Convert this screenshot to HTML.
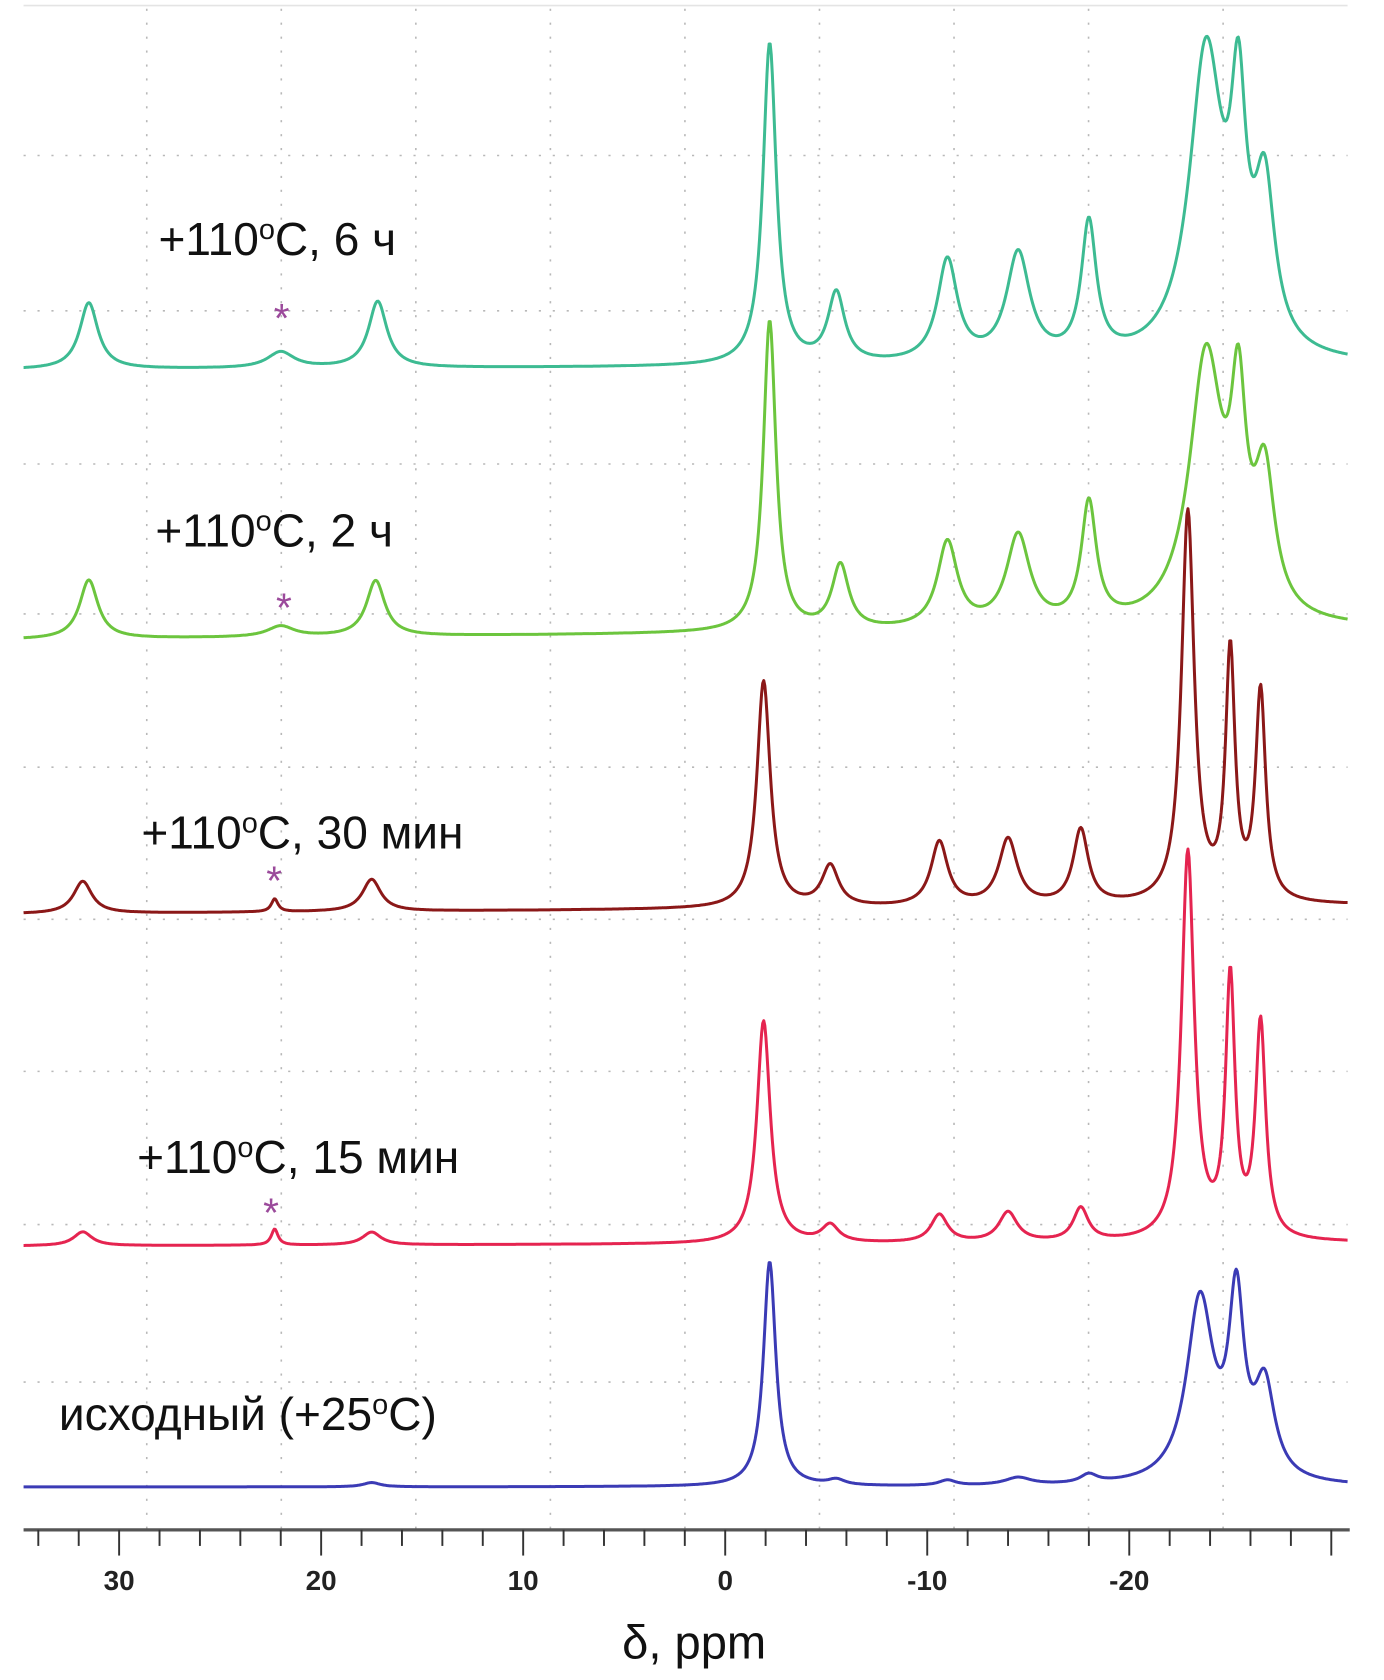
<!DOCTYPE html>
<html><head><meta charset="utf-8"><style>
html,body{margin:0;padding:0;background:#fff;width:1384px;height:1680px;overflow:hidden}
svg{display:block}
text{font-family:"Liberation Sans",sans-serif}
</style></head><body>
<svg id="chart" width="1384" height="1680" viewBox="0 0 1292 1568" xmlns="http://www.w3.org/2000/svg">
<g id="grid"></g>
<g id="spectra"></g>
<g id="axis"></g>
<g font-size="43" fill="#111">
<text x="148" y="238">+110<tspan font-size="27" dy="-15">o</tspan><tspan dy="15">C, 6 ч</tspan></text>
<text x="145" y="510">+110<tspan font-size="27" dy="-15">o</tspan><tspan dy="15">C, 2 ч</tspan></text>
<text x="132" y="792">+110<tspan font-size="27" dy="-15">o</tspan><tspan dy="15">C, 30 мин</tspan></text>
<text x="128" y="1095">+110<tspan font-size="27" dy="-15">o</tspan><tspan dy="15">C, 15 мин</tspan></text>
<text x="55" y="1335">исходный (+25<tspan font-size="27" dy="-15">o</tspan><tspan dy="15">C)</tspan></text>
</g>
<g font-size="38" fill="#9b4a9b" text-anchor="middle">
<text x="263" y="310">*</text>
<text x="265" y="580">*</text>
<text x="256" y="835">*</text>
<text x="253" y="1145">*</text>
</g>
<text x="648" y="1548" font-size="44" text-anchor="middle" fill="#111">δ, ppm</text>
</svg>
<script>
// axis data
const tickValues = [30, 20, 10, 0, -10, -20];
const tickLabels = ["30", "20", "10", "0", "-10", "-20"];
// series data: [ppm, height, half-width]
const peaks6h = [[31.5,62,0.55],[22,15,0.8],[17.2,62,0.55],[-2.2,300,0.4],[-5.5,65,0.5],[-11,95,0.6],[-14.5,100,0.7],[-18,125,0.45],[-23.8,285,1.0],[-25.4,200,0.45],[-26.7,145,0.6]];
const peaks2h = [[31.5,55,0.55],[22,10,0.8],[17.3,52,0.55],[-2.2,290,0.38],[-5.7,60,0.5],[-11,80,0.6],[-14.5,85,0.7],[-18,112,0.45],[-23.8,248,1.0],[-25.4,174,0.45],[-26.7,126,0.6]];
const peaks30 = [[31.8,30,0.55],[22.3,12,0.2],[17.5,30,0.55],[-1.9,212,0.4],[-5.2,38,0.5],[-10.6,60,0.5],[-14,62,0.55],[-17.6,70,0.45],[-22.9,365,0.38],[-25,230,0.28],[-26.5,195,0.3]];
const peaks15 = [[31.8,13,0.55],[22.3,15,0.2],[17.5,12,0.55],[-1.9,208,0.4],[-5.2,16,0.5],[-10.6,26,0.5],[-14,28,0.55],[-17.6,31,0.45],[-22.9,362,0.38],[-25,240,0.28],[-26.5,200,0.3]];
const peaksInit = [[17.5,4,0.5],[-2.2,210,0.37],[-5.5,5,0.5],[-11,5,0.5],[-14.5,7,0.8],[-18,8,0.5],[-23.5,170,0.8],[-25.3,162,0.45],[-26.7,85,0.6]];
const baseLeft = [345, 597, 853, 1163, 1388];
const baseRight = [341, 587, 845, 1160, 1388];
const colors = ["#3dbb92", "#6cc53e", "#8b1818", "#e52450", "#3b3bb5"];
const seriesNames = ["spectrum-6h", "spectrum-2h", "spectrum-30min", "spectrum-15min", "spectrum-initial"];
const allPeaks = [peaks6h, peaks2h, peaks30, peaks15, peaksInit];

const NS = "http://www.w3.org/2000/svg";
const X0 = 22, X1 = 1258, AXY = 1428;
function xScale(p){ return 677 - 18.86 * p; }
function ppmAt(x){ return (677 - x) / 18.86; }

const gridG = document.getElementById('grid');
for (let gx = 137; gx < 1262; gx += 125.6) {
  const l = document.createElementNS(NS, 'line');
  
  
  l.setAttribute('x1', gx); l.setAttribute('x2', gx); l.setAttribute('y1', 8); l.setAttribute('y2', AXY);
  l.setAttribute('stroke', '#b8b8b8'); l.setAttribute('stroke-width', '1.5'); l.setAttribute('stroke-dasharray', '2 11');
  gridG.appendChild(l);
}
[145, 290, 433, 573, 716, 858, 1000, 1143, 1290].forEach(gy => {
  const l = document.createElementNS(NS, 'line');
  
  
  l.setAttribute('x1', X0); l.setAttribute('x2', X1); l.setAttribute('y1', gy); l.setAttribute('y2', gy);
  l.setAttribute('stroke', '#b8b8b8'); l.setAttribute('stroke-width', '1.5'); l.setAttribute('stroke-dasharray', '2 11');
  gridG.appendChild(l);
});
const topBorder = document.createElementNS(NS, 'line');


topBorder.setAttribute('x1', X0); topBorder.setAttribute('x2', X1); topBorder.setAttribute('y1', 5); topBorder.setAttribute('y2', 5);
topBorder.setAttribute('stroke', '#e4e4e4'); topBorder.setAttribute('stroke-width', '1.5');
gridG.appendChild(topBorder);

const spectraG = document.getElementById('spectra');
allPeaks.forEach((pk, i) => {
  let d = '';
  for (let x = X0; x <= X1; x += 1) {
    const p = ppmAt(x);
    let s = 0;
    pk.forEach(([c, h, w]) => { const t = (p - c) / w; s += h / (1 + t * t); });
    const b = baseLeft[i] + (baseRight[i] - baseLeft[i]) * (x - X0) / (X1 - X0);
    d += (x === X0 ? 'M' : 'L') + x + ' ' + (b - s).toFixed(1);
  }
  const path = document.createElementNS(NS, 'path');
  
  
  path.setAttribute('d', d);
  path.setAttribute('fill', 'none');
  path.setAttribute('stroke', colors[i]);
  path.setAttribute('stroke-width', '2.8');
  path.setAttribute('stroke-linejoin', 'round');
  spectraG.appendChild(path);
});

const axisG = document.getElementById('axis');
const al = document.createElementNS(NS, 'line');


al.setAttribute('x1', X0); al.setAttribute('x2', X1 + 2); al.setAttribute('y1', AXY); al.setAttribute('y2', AXY);
al.setAttribute('stroke', '#555'); al.setAttribute('stroke-width', '3');
axisG.appendChild(al);
for (let p = 34; p >= -30; p -= 2) {
  const major = p % 10 === 0;
  const t = document.createElementNS(NS, 'line');
  
  
  t.setAttribute('x1', xScale(p)); t.setAttribute('x2', xScale(p));
  t.setAttribute('y1', AXY); t.setAttribute('y2', AXY + (major ? 24 : 15));
  t.setAttribute('stroke', '#333'); t.setAttribute('stroke-width', '1.8');
  axisG.appendChild(t);
}
tickValues.forEach((v, i) => {
  const tx = document.createElementNS(NS, 'text');
  
  
  tx.setAttribute('x', xScale(v)); tx.setAttribute('y', 1484);
  tx.setAttribute('text-anchor', 'middle');
  tx.setAttribute('font-size', '26'); tx.setAttribute('font-weight', 'bold'); tx.setAttribute('fill', '#222');
  tx.textContent = tickLabels[i];
  axisG.appendChild(tx);
});
</script>
</body></html>
